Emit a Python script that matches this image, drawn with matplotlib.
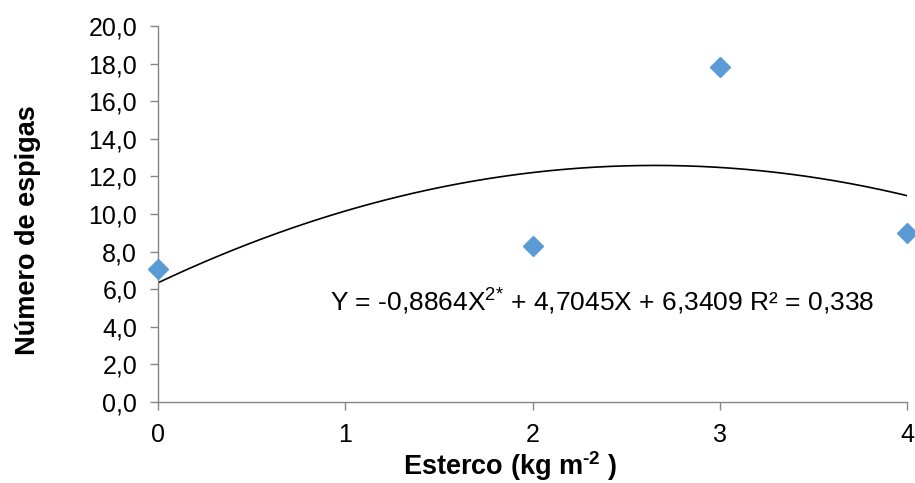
import numpy as np
import matplotlib
matplotlib.use("Agg")
import matplotlib.pyplot as plt

plt.rcParams['font.family'] = ['Liberation Sans', 'DejaVu Sans']
plt.rcParams['mathtext.fontset'] = 'custom'
plt.rcParams['mathtext.rm'] = 'Liberation Sans'
plt.rcParams['mathtext.it'] = 'Liberation Sans'
plt.rcParams['mathtext.bf'] = 'Liberation Sans:bold'

# data
x_vals = [0, 2, 3, 4]
y_vals = [7.05, 8.3, 17.8, 9.0]
coef = [-0.8864, 4.7045, 6.3409]  # a, b, c of fitted quadratic
x_ticks = [0, 1, 2, 3, 4]
y_ticks = [0, 2, 4, 6, 8, 10, 12, 14, 16, 18, 20]
equation = "Y = -0,8864X$^{\\mathrm{2{*}}}$ + 4,7045X + 6,3409 R² = 0,338"

W, H = 915, 483
fig = plt.figure(figsize=(W / 100, H / 100), dpi=100)
ax = fig.add_axes([158 / W, (H - 402) / H, (907 - 158) / W, (402 - 26) / H])

xs = np.linspace(0, 4, 200)
ax.plot(xs, coef[0] * xs**2 + coef[1] * xs + coef[2], color='black', lw=1.2, zorder=2)
ax.plot(x_vals, y_vals, linestyle='none', marker='D', markersize=10,
        color='#5B9BD5', markeredgecolor='#5B9BD5', zorder=3, clip_on=False)

ax.set_xlim(0, 4)
ax.set_ylim(0, 20)
ax.set_xticks(x_ticks)
ax.set_xticklabels([str(t) for t in x_ticks])
ax.set_yticks(y_ticks)
ax.set_yticklabels([f"{t:.1f}".replace('.', ',') for t in y_ticks])

for s in ['top', 'right']:
    ax.spines[s].set_visible(False)
for s in ['left', 'bottom']:
    ax.spines[s].set_color('#868686')
    ax.spines[s].set_linewidth(1.0)
ax.tick_params(axis='both', colors='#868686', labelcolor='black', labelsize=18,
               length=6, width=1.0, direction='out')
ax.tick_params(axis='x', pad=9)
ax.tick_params(axis='y', pad=9)

ax.text(0.918, 5.3, equation, fontsize=19, va='center', ha='left')

fig.text(28 / W, 1 - 230 / H, "Número de espigas", rotation=90, fontsize=19.5,
         fontweight='bold', ha='center', va='center')
fig.text(510 / W, 1 - 466 / H, "Esterco (kg m$^{\\mathbf{\u20102}}$ )", fontsize=19.5,
         fontweight='bold', ha='center', va='center')

fig.savefig("out.png", dpi=100)
